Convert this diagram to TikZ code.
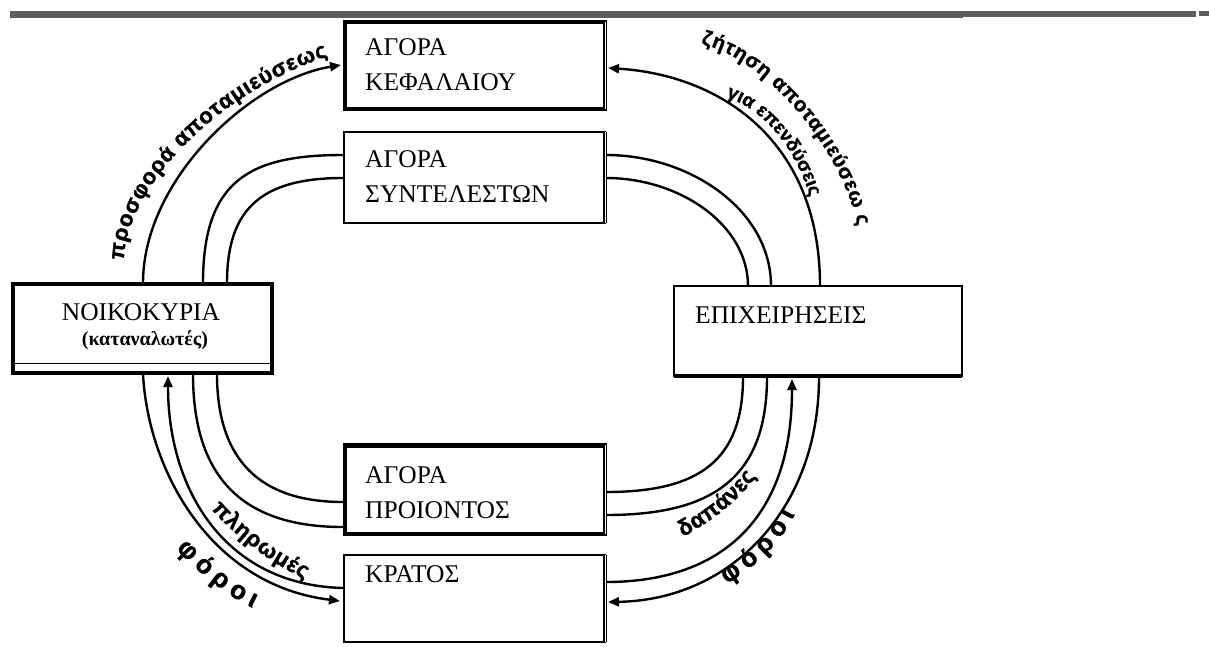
\documentclass[tikz,border=0pt]{standalone}
\usepackage{fontspec}
\setmainfont{Liberation Serif}
\newfontfamily\lblfamily{Liberation Sans}[BoldFeatures={FakeBold=1.4}]
\usetikzlibrary{arrows.meta,decorations.text}
\definecolor{bargray}{HTML}{5E5E5E}
\newcommand\lblA{\lblfamily\bfseries\fontsize{22}{22}\selectfont}
\newcommand\lblB{\lblfamily\bfseries\fontsize{20.5}{21}\selectfont}
\newcommand\lblC{\lblfamily\bfseries\fontsize{19}{19}\selectfont}
\newcommand\lblD{\lblfamily\bfseries\fontsize{22.5}{23}\selectfont}
\newcommand\lblE{\lblfamily\bfseries\fontsize{26}{26}\selectfont}
\tikzset{
  mbox/.style={draw, inner sep=0pt, outer sep=0pt},
  boxtext/.style={anchor=base west, inner sep=0pt, font=\fontsize{25.5}{30}\selectfont},
  conn/.style={line width=2.4pt},
  arr/.style={conn, -{Triangle[length=11pt,width=9pt]}},
  lbl/.style={decorate, decoration={text along path, text align={fit to path}, text={#1}}},
  dblright/.style={draw=white, line width=0.9pt},
}
\begin{document}
\begin{tikzpicture}[x=1pt,y=-1pt]
\useasboundingbox (0,0) rectangle (1209,646);
% top rule
\fill[bargray] (10,11) rectangle (963,18);
\fill[bargray] (963,11) rectangle (1196,17);
\fill[bargray] (1199,11) rectangle (1209,16);

% boxes
\node[mbox, line width=3.5pt, minimum width=260pt, minimum height=87pt] (kef) at (475,65.5) {};
\node[mbox, line width=2.5pt, minimum width=261pt, minimum height=91pt] (synt) at (474.5,177.5) {};
\node[mbox, line width=3.5pt, minimum width=260pt, minimum height=89pt] (proi) at (475,489.5) {};
\node[mbox, line width=2.2pt, minimum width=261pt, minimum height=87pt] (krat) at (474.5,598.5) {};
\node[mbox, line width=4.5pt, minimum width=259pt, minimum height=89pt] (noik) at (142.5,328.5) {};
\node[mbox, line width=1.8pt, minimum width=288pt, minimum height=90pt] (epix) at (818,331) {};

% box details
\draw[line width=4pt] (kef.north east) -- (kef.south east);
\draw[dblright] (kef.north east) -- (kef.south east);
\draw[line width=4pt] (synt.north east) -- (synt.south east);
\draw[dblright] (synt.north east) -- (synt.south east);
\draw[line width=4pt] (proi.north east) -- (proi.south east);
\draw[dblright] (proi.north east) -- (proi.south east);
\draw[line width=4pt] (krat.north east) -- (krat.south east);
\draw[dblright] (krat.north east) -- (krat.south east);
\draw[line width=5pt] (proi.north west) -- (proi.north east);
\draw[line width=4pt] (epix.south west) -- (epix.south east);
\draw[line width=1pt] ([yshift=10pt]noik.south west) -- ([yshift=10pt]noik.south east);

% box texts
\node[boxtext] (t1) at (365,55) {ΑΓΟΡΑ};
\node[boxtext] (t2) at (365,90) {ΚΕΦΑΛΑΙΟΥ};
\node[boxtext] (t3) at (365,167) {ΑΓΟΡΑ};
\node[boxtext] (t4) at (365,202) {ΣΥΝΤΕΛΕΣΤΩΝ};
\node[boxtext] (t5) at (365,483) {ΑΓΟΡΑ};
\node[boxtext] (t6) at (365,518) {ΠΡΟΙΟΝΤΟΣ};
\node[boxtext] (t7) at (365,582) {ΚΡΑΤΟΣ};
\node[boxtext] (t8) at (695,323) {ΕΠΙΧΕΙΡΗΣΕΙΣ};
\node[anchor=base, inner sep=0pt, font=\fontsize{25.5}{30}\selectfont] (t9) at (141,320) {ΝΟΙΚΟΚΥΡΙΑ};
\node[anchor=base, inner sep=0pt, font=\bfseries\fontsize{20}{24}\selectfont] (t10) at (145,345) {(καταναλωτές)};

% connector end points
\coordinate (nA) at (143,283);
\coordinate (nB) at (203,283);
\coordinate (nC) at (227,283);
\coordinate (nD) at (143,374);
\coordinate (nE) at (168,376);
\coordinate (nF) at (193,374);
\coordinate (nG) at (217,374);
\coordinate (kL) at (341,65);
\coordinate (kR) at (608,68);
\coordinate (sL1) at (343,155);
\coordinate (sL2) at (343,178);
\coordinate (sR1) at (606,155);
\coordinate (sR2) at (606,178);
\coordinate (eA) at (748,286);
\coordinate (eB) at (771,286);
\coordinate (eC) at (820,286);
\coordinate (eD) at (743,377);
\coordinate (eE) at (767,377);
\coordinate (eF) at (792,379);
\coordinate (eG) at (819,377);
\coordinate (pL1) at (343,502);
\coordinate (pL2) at (343,527);
\coordinate (pR1) at (606,492);
\coordinate (pR2) at (606,515);
\coordinate (rL1) at (343,588);
\coordinate (rL2) at (340,601);
\coordinate (rR1) at (606,582);
\coordinate (rR2) at (608,602);

% top left
\draw[arr] (nA) .. controls (143,180) and (250,80) .. (kL);
\draw[conn] (nB) .. controls (203,180) and (250,155) .. (sL1);
\draw[conn] (nC) .. controls (227,210) and (260,178) .. (sL2);
% top right
\draw[arr] (eC) .. controls (820,140) and (720,75) .. (kR);
\draw[conn] (sR1) .. controls (690,155) and (771,210) .. (eB);
\draw[conn] (sR2) .. controls (680,178) and (748,225) .. (eA);
% bottom left
\draw[conn] (nG) .. controls (217,460) and (260,502) .. (pL1);
\draw[conn] (nF) .. controls (193,480) and (245,527) .. (pL2);
\draw[arr] (rL1) .. controls (225,585) and (168,490) .. (nE);
\draw[arr] (nD) .. controls (148,470) and (210,585) .. (rL2);
% bottom right
\draw[conn] (eD) .. controls (743,460) and (700,492) .. (pR1);
\draw[conn] (eE) .. controls (767,480) and (710,515) .. (pR2);
\draw[arr] (rR1) .. controls (720,582) and (792,520) .. (eF);
\draw[arr] (eG) .. controls (819,510) and (730,600) .. (rR2);

% labels
\path[lbl={|\lblA|προσφορά αποταμιεύσεως}] (124,260) .. controls (124,200) and (200,100) .. (328,56);
\path[lbl={|\lblB|ζήτηση αποταμιεύσεω ς}] (701,44) .. controls (760,56) and (838,140) .. (858,226);
\path[lbl={|\lblC|για επενδύσεις}] (726,97) .. controls (760,108) and (792,141) .. (810,196);
\path[lbl={|\lblD|πληρωμές}] (211,509) .. controls (235,535) and (265,560) .. (305,579);
\path[lbl={|\lblE|φόροι}] (176,549) .. controls (198,572) and (225,595) .. (253,608);
\path[lbl={|\lblD|δαπάνες}] (683,537) .. controls (710,522) and (740,500) .. (756,476);
\path[lbl={|\lblE|φόροι}] (727,584) .. controls (752,568) and (778,548) .. (795,514);
\end{tikzpicture}
\end{document}
